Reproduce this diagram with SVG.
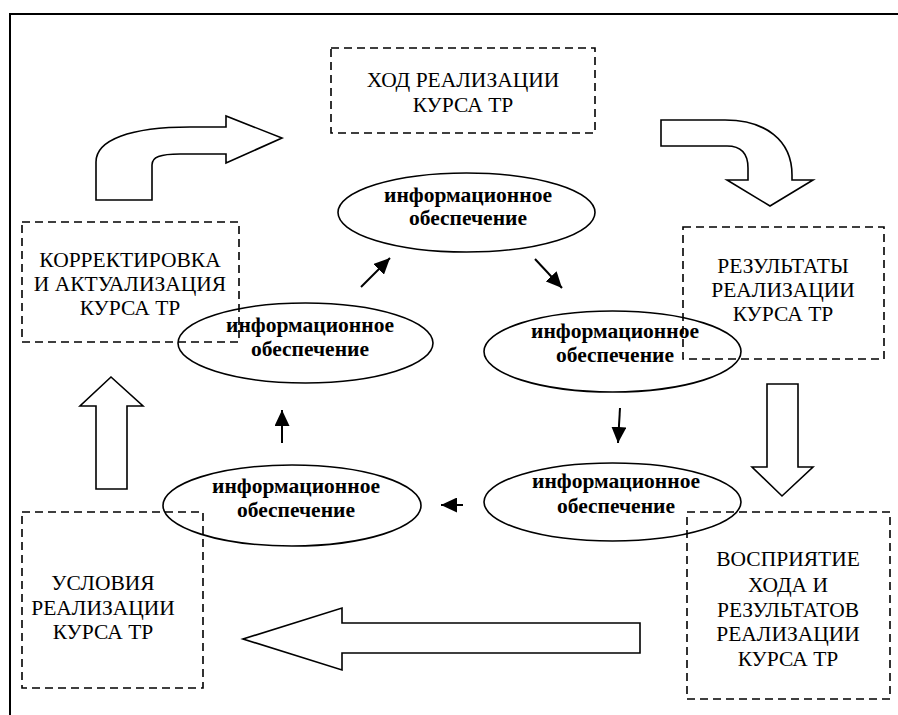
<svg xmlns="http://www.w3.org/2000/svg" width="898" height="715" viewBox="0 0 898 715">
<style>
.frame{fill:none;stroke:#000;stroke-width:2}
.box{fill:none;stroke:#000;stroke-width:1.6;stroke-dasharray:8 5}
.blk{fill:#fff;stroke:#000;stroke-width:1.6;stroke-linejoin:miter}
.ell{fill:none;stroke:#000;stroke-width:1.6}
.t{font-family:"Liberation Serif","Times New Roman",serif;font-size:21.5px;text-anchor:middle;fill:#000}
.b{font-family:"Liberation Serif","Times New Roman",serif;font-size:21.5px;font-weight:bold;text-anchor:middle;fill:#000}
.arr{stroke:#000;stroke-width:2;fill:none}
</style>
<defs>
<marker id="ah" markerUnits="userSpaceOnUse" markerWidth="17" markerHeight="15" refX="16" refY="7.5" orient="auto">
<path d="M0,0 L16,7.5 L0,15 Z" fill="#000"/>
</marker>
</defs>
<rect class="frame" x="10" y="14" width="900" height="720"/>

<g id="block-arrows">
<path id="curved-left" class="blk" d="M96,200 L96,162 C96,140 130,127 190,127 L226,127 L226,116 L282,138 L226,163 L226,154 L180,154 C160,154 152,157 152,165 L152,200 Z"/>
<path id="curved-right" class="blk" d="M661,120 L725,120 C765,120 792,140 792,175 L792,180 L813,180 L770,206 L727,180 L748,180 L748,168 C748,153 740,146 727,146 L661,146 Z"/>
<path id="up-arrow" class="blk" d="M96,489 L96,406 L80,406 L111,377 L143,406 L127,406 L127,489 Z"/>
<path id="down-arrow" class="blk" d="M767,384 L798,384 L798,467 L813,467 L782,496 L752,467 L767,467 Z"/>
<path id="left-arrow" class="blk" d="M640,623 L342,623 L342,608 L243,639 L342,670 L342,653 L640,653 Z"/>
</g>

<g id="box-hod">
<rect class="box" x="331" y="48" width="264" height="85"/>
<text class="t" x="463" y="87">ХОД РЕАЛИЗАЦИИ</text>
<text class="t" x="463" y="112">КУРСА ТР</text>
</g>
<g id="box-korr">
<rect class="box" x="22" y="222" width="217" height="120"/>
<text class="t" x="130" y="267">КОРРЕКТИРОВКА</text>
<text class="t" x="130" y="291">И АКТУАЛИЗАЦИЯ</text>
<text class="t" x="130" y="315">КУРСА ТР</text>
</g>
<g id="box-rez">
<rect class="box" x="683" y="227" width="201" height="132"/>
<text class="t" x="783" y="273">РЕЗУЛЬТАТЫ</text>
<text class="t" x="783" y="297">РЕАЛИЗАЦИИ</text>
<text class="t" x="783" y="321">КУРСА ТР</text>
</g>
<g id="box-vospr">
<rect class="box" x="687" y="512" width="203" height="187"/>
<text class="t" x="788" y="566">ВОСПРИЯТИЕ</text>
<text class="t" x="788" y="592">ХОДА И</text>
<text class="t" x="788" y="617">РЕЗУЛЬТАТОВ</text>
<text class="t" x="788" y="641">РЕАЛИЗАЦИИ</text>
<text class="t" x="788" y="666">КУРСА ТР</text>
</g>
<g id="box-usl">
<rect class="box" x="22" y="512" width="181" height="176"/>
<text class="t" x="103" y="590">УСЛОВИЯ</text>
<text class="t" x="103" y="615">РЕАЛИЗАЦИИ</text>
<text class="t" x="103" y="639">КУРСА ТР</text>
</g>

<g id="ell-1">
<ellipse class="ell" cx="466.5" cy="212.5" rx="128.5" ry="39.5"/>
<text class="b" x="468" y="202">информационное</text>
<text class="b" x="468" y="225">обеспечение</text>
</g>
<g id="ell-2">
<ellipse class="ell" cx="305.5" cy="343" rx="127.5" ry="40"/>
<text class="b" x="310" y="332">информационное</text>
<text class="b" x="310" y="356">обеспечение</text>
</g>
<g id="ell-3">
<ellipse class="ell" cx="612.5" cy="351.5" rx="128.5" ry="40.5"/>
<text class="b" x="615" y="338">информационное</text>
<text class="b" x="615" y="362">обеспечение</text>
</g>
<g id="ell-4">
<ellipse class="ell" cx="292" cy="505.5" rx="129" ry="40.5"/>
<text class="b" x="296" y="493">информационное</text>
<text class="b" x="296" y="517">обеспечение</text>
</g>
<g id="ell-5">
<ellipse class="ell" cx="612.5" cy="502" rx="128.5" ry="39"/>
<text class="b" x="616" y="488">информационное</text>
<text class="b" x="616" y="513">обеспечение</text>
</g>

<g id="connectors">
<line class="arr" x1="361" y1="287" x2="390" y2="258" marker-end="url(#ah)"/>
<line class="arr" x1="535" y1="259" x2="562" y2="288" marker-end="url(#ah)"/>
<line class="arr" x1="620" y1="408" x2="618" y2="443" marker-end="url(#ah)"/>
<line class="arr" x1="463" y1="505" x2="441" y2="505" marker-end="url(#ah)"/>
<line class="arr" x1="282" y1="443" x2="282" y2="410" marker-end="url(#ah)"/>
</g>
</svg>
